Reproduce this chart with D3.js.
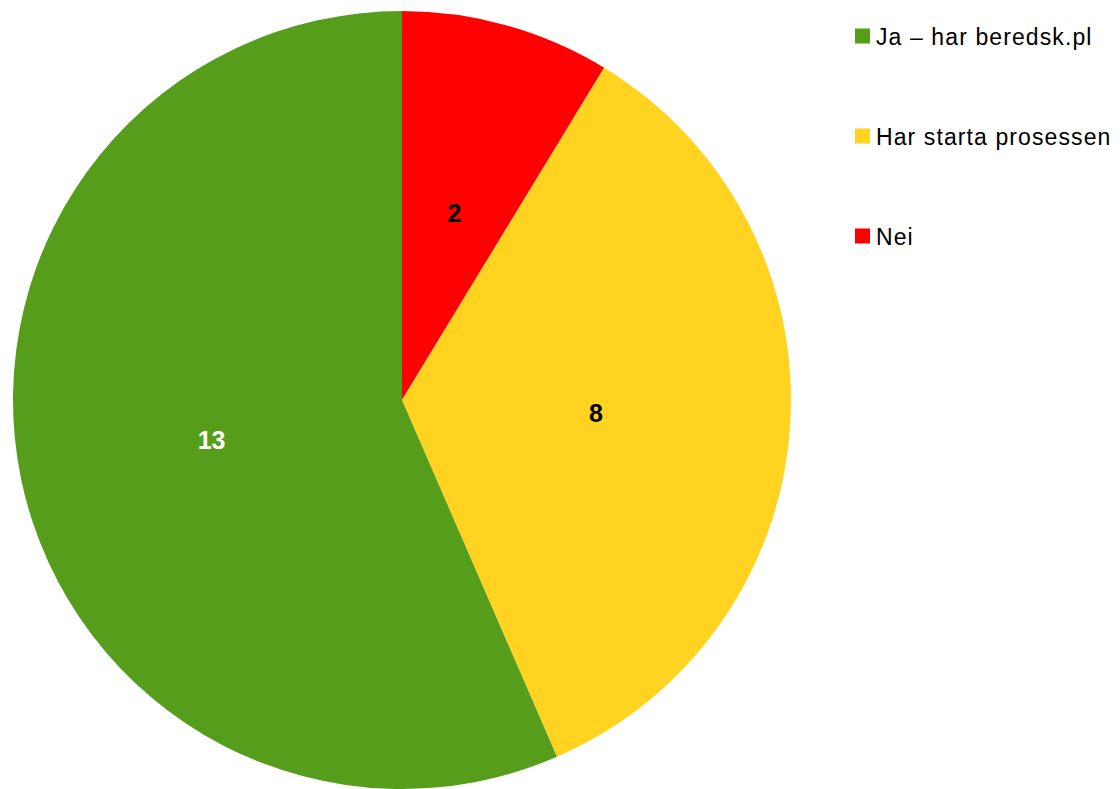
<!DOCTYPE html>
<html>
<head>
<meta charset="utf-8">
<script src="https://cdn.jsdelivr.net/npm/d3@7"></script>
<style>
  html, body { margin: 0; padding: 0; background: #fff; }
  svg { display: block; font-family: "Liberation Sans", Arial, sans-serif; }
</style>
</head>
<body>
<svg id="chart" width="1120" height="789"></svg>
<script>
// Answers, in drawing order clockwise from 12 o'clock
const categories = ["Nei", "Har starta prosessen", "Ja – har beredsk.pl"];
const counts = [2, 8, 13];
const colors = ["#ff0000", "#ffd320", "#579d1c"];
const labelColors = ["#000000", "#000000", "#ffffff"];
// Legend lists the answers in this order
const legendOrder = ["Ja – har beredsk.pl", "Har starta prosessen", "Nei"];

const data = categories.map((c, i) => ({ category: c, value: counts[i], color: colors[i], labelColor: labelColors[i] }));

const svg = d3.select("#chart");
const cx = 402, cy = 400, radius = 389;

const pie = d3.pie().sort(null).value(d => d.value);
const arc = d3.arc().innerRadius(0).outerRadius(radius);
const labelArc = d3.arc().innerRadius(radius / 2).outerRadius(radius / 2);

const g = svg.append("g").attr("transform", `translate(${cx},${cy})`);
const arcs = pie(data);

g.selectAll("path.slice")
  .data(arcs)
  .join("path")
  .attr("class", "slice")
  .attr("d", arc)
  .attr("fill", d => d.data.color);

g.selectAll("text.value")
  .data(arcs)
  .join("text")
  .attr("class", "value")
  .attr("transform", d => `translate(${labelArc.centroid(d)})`)
  .attr("text-anchor", "middle")
  .attr("dy", "0.36em")
  .attr("font-size", 25)
  .attr("font-weight", "bold")
  .attr("fill", d => d.data.labelColor)
  .text(d => d.data.value);

// Legend
const colorOf = d3.scaleOrdinal().domain(categories).range(colors);
const legendY = d3.scalePoint().domain(legendOrder).range([36.5, 236.5]);

const legend = svg.append("g").attr("transform", "translate(855,0)");
const items = legend.selectAll("g.item")
  .data(legendOrder)
  .join("g")
  .attr("class", "item")
  .attr("transform", d => `translate(0,${legendY(d)})`);

items.append("rect")
  .attr("x", 0).attr("y", -8)
  .attr("width", 15).attr("height", 15)
  .attr("fill", d => colorOf(d));

items.append("text")
  .attr("x", 21).attr("y", 8.5)
  .attr("font-size", 23)
  .attr("letter-spacing", 1.1)
  .attr("fill", "#000")
  .text(d => d);
</script>
</body>
</html>
